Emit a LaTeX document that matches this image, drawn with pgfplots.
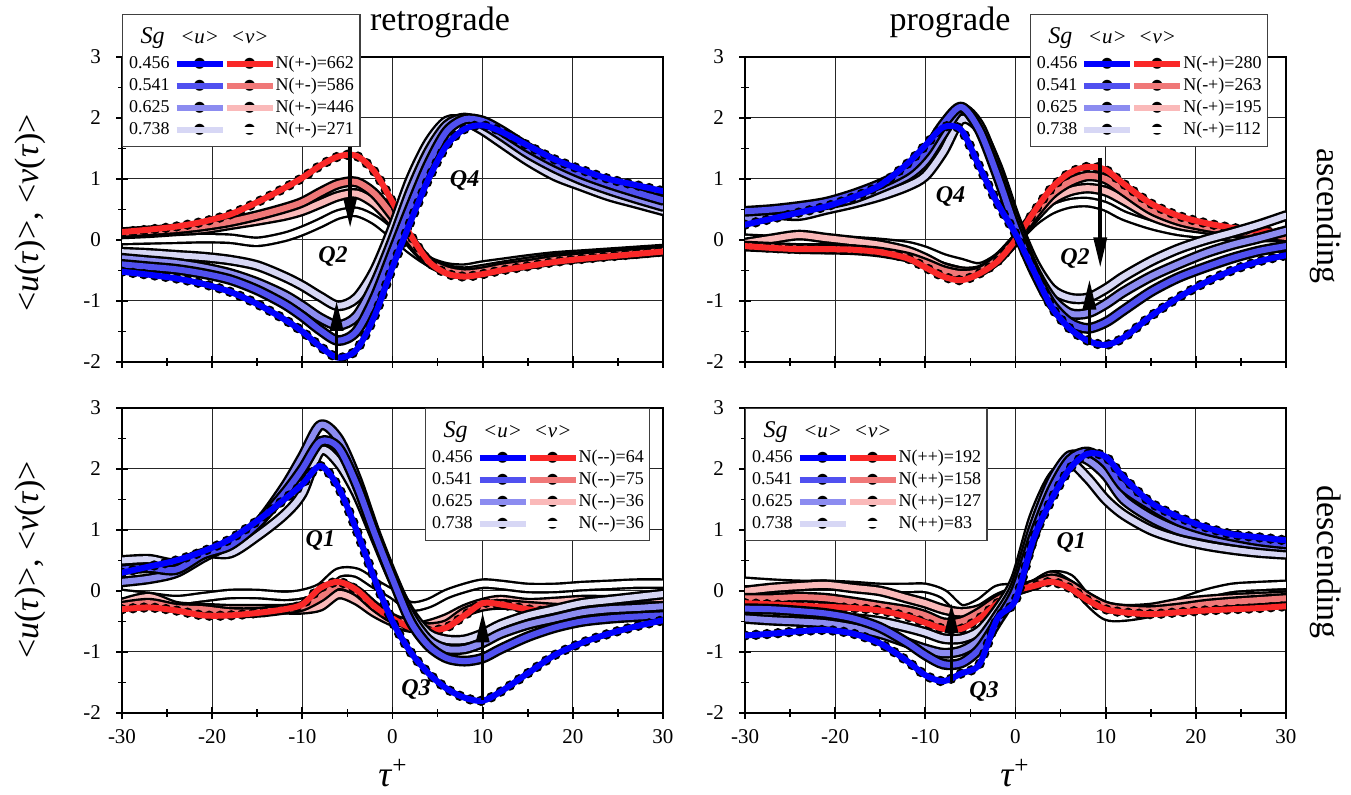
\documentclass[border=0pt]{standalone}
\usepackage{fontspec}
\setmainfont{Liberation Serif}
\newfontfamily\dejavu{DejaVu Sans}
\usepackage{pgfplots}
\pgfplotsset{compat=1.18}
\usepackage{pgfplotstable}
\usetikzlibrary{arrows.meta}

% colour ramps for Sg = 0.456, 0.541, 0.625, 0.738
\definecolor{ub1}{RGB}{0,0,255}
\definecolor{ub2}{RGB}{80,80,240}
\definecolor{ub3}{RGB}{140,140,240}
\definecolor{ub4}{RGB}{215,215,245}
\definecolor{vr1}{RGB}{250,40,40}
\definecolor{vr2}{RGB}{240,120,120}
\definecolor{vr3}{RGB}{250,185,185}

% conditional averages <u>, <v> around the event, columns 1..4 = Sg 0.456 .. 0.738
\pgfplotstableread{
x    u1     u2     u3     u4     v1     v2     v3     v4
-30 -0.52 -0.40 -0.30 -0.20  0.13  0.12  0.10  0.00
-27 -0.57 -0.44 -0.34 -0.22  0.17  0.15  0.12  0.01
-24 -0.63 -0.48 -0.38 -0.25  0.22  0.18  0.15  0.02
-21 -0.72 -0.55 -0.45 -0.28  0.30  0.23  0.18  0.03
-18 -0.85 -0.65 -0.55 -0.33  0.42  0.30  0.25  0.02
-15 -1.05 -0.82 -0.70 -0.42  0.62  0.40  0.32 -0.03
-12 -1.30 -1.05 -0.90 -0.60  0.85  0.52  0.40  0.05
-10 -1.50 -1.25 -1.08 -0.75  1.02  0.62  0.48  0.15
-8  -1.75 -1.48 -1.28 -0.93  1.22  0.78  0.60  0.28
-6  -1.93 -1.65 -1.40 -1.08  1.37  0.92  0.72  0.42
-4  -1.80 -1.50 -1.25 -0.95  1.38  0.95  0.76  0.46
-2  -1.25 -0.95 -0.72 -0.50  1.12  0.76  0.60  0.33
0   -0.45 -0.20  0.00  0.20  0.62  0.40  0.30  0.10
2    0.30  0.55  0.80  1.00  0.08  0.00 -0.05 -0.15
4    1.00  1.25  1.45  1.60 -0.35 -0.35 -0.35 -0.35
6    1.55  1.78  1.88  1.95 -0.55 -0.50 -0.48 -0.45
8    1.82  1.98  2.00  1.95 -0.60 -0.55 -0.52 -0.47
10   1.88  1.95  1.90  1.80 -0.56 -0.52 -0.48 -0.42
12   1.78  1.80  1.72  1.60 -0.50 -0.46 -0.43 -0.38
15   1.55  1.52  1.42  1.30 -0.43 -0.40 -0.36 -0.32
18   1.32  1.28  1.18  1.05 -0.36 -0.33 -0.30 -0.27
21   1.15  1.08  0.98  0.88 -0.31 -0.29 -0.27 -0.24
24   1.00  0.92  0.82  0.72 -0.27 -0.25 -0.23 -0.21
27   0.90  0.78  0.68  0.60 -0.23 -0.22 -0.20 -0.18
30   0.80  0.65  0.55  0.48 -0.19 -0.18 -0.17 -0.15
}\retroasc

\pgfplotstableread{
x    u1     u2     u3     u4     v1     v2     v3     v4
-30  0.25  0.47  0.35  0.40 -0.10 -0.10 -0.05  0.02
-27  0.35  0.50  0.42  0.42 -0.13 -0.12  0.02  0.00
-24  0.45  0.55  0.50  0.40 -0.15 -0.14  0.08  0.00
-21  0.55  0.62  0.58  0.50 -0.15 -0.15  0.03  0.00
-18  0.70  0.75  0.68  0.60 -0.16 -0.16 -0.02 -0.02
-15  0.90  0.92  0.85  0.72 -0.20 -0.20 -0.08 -0.05
-12  1.25  1.15  1.05  0.88 -0.30 -0.28 -0.18 -0.10
-10  1.55  1.45  1.30  1.05 -0.45 -0.38 -0.30 -0.18
-8   1.85  1.90  1.75  1.45 -0.60 -0.50 -0.45 -0.30
-6   1.80  2.18  2.15  1.98 -0.66 -0.56 -0.52 -0.38
-4   1.20  1.80  1.88  1.82 -0.55 -0.52 -0.50 -0.45
-2   0.60  1.05  1.15  1.20 -0.35 -0.32 -0.32 -0.30
0    0.10  0.20  0.30  0.35  0.00  0.00  0.00  0.00
2   -0.50 -0.50 -0.45 -0.35  0.45  0.40  0.35  0.30
4   -1.10 -1.05 -0.95 -0.80  0.85  0.75  0.65  0.50
6   -1.45 -1.35 -1.20 -0.95  1.10  0.95  0.80  0.60
8   -1.65 -1.45 -1.20 -0.95  1.20  1.05  0.85  0.62
10  -1.72 -1.35 -1.05 -0.80  1.15  1.00  0.80  0.55
12  -1.60 -1.15 -0.85 -0.60  0.92  0.80  0.65  0.40
15  -1.25 -0.85 -0.60 -0.35  0.60  0.50  0.40  0.25
18  -0.95 -0.62 -0.40 -0.15  0.40  0.32  0.25  0.15
21  -0.70 -0.45 -0.22  0.00  0.28  0.22  0.18  0.10
24  -0.50 -0.30 -0.08  0.12  0.20  0.15  0.12  0.06
27  -0.35 -0.18  0.03  0.25  0.15  0.10  0.08  0.05
30  -0.25 -0.10  0.15  0.40  0.12  0.05  0.05  0.05
}\proasc

\pgfplotstableread{
x    u1     u2     u3     u4     v1     v2     v3     v4
-30  0.30  0.35  0.15  0.50 -0.30 -0.25 -0.20 -0.05
-27  0.40  0.38  0.20  0.52 -0.27 -0.20 -0.10 -0.10
-24  0.50  0.35  0.30  0.45 -0.32 -0.28 -0.25 -0.15
-21  0.65  0.60  0.55  0.62 -0.40 -0.30 -0.28 -0.10
-18  0.85  0.75  0.78  0.62 -0.40 -0.35 -0.30 -0.05
-15  1.15  1.10  1.10  0.90 -0.36 -0.35 -0.30 -0.05
-12  1.50  1.60  1.70  1.25 -0.30 -0.30 -0.30 -0.08
-10  1.75  2.00  2.20  1.60 -0.22 -0.25 -0.30 -0.05
-8   2.05  2.45  2.72  2.30  0.05 -0.10 -0.25  0.05
-6   1.70  2.35  2.50  2.10  0.15  0.10 -0.05  0.30
-4   1.00  1.75  1.85  1.60  0.02  0.00 -0.15  0.30
-2   0.20  0.95  1.00  0.90 -0.25 -0.25 -0.35  0.12
0   -0.50  0.20  0.25  0.20 -0.45 -0.45 -0.50 -0.05
2   -1.00 -0.50 -0.40 -0.35 -0.60 -0.55 -0.60 -0.25
4   -1.35 -0.90 -0.80 -0.70 -0.65 -0.60 -0.55 -0.20
6   -1.60 -1.10 -0.95 -0.80 -0.60 -0.55 -0.45 -0.05
8   -1.75 -1.15 -0.95 -0.80 -0.40 -0.35 -0.30  0.05
10  -1.80 -1.10 -0.85 -0.70 -0.20 -0.25 -0.20  0.12
12  -1.65 -0.95 -0.70 -0.55 -0.22 -0.22 -0.15  0.10
15  -1.35 -0.75 -0.55 -0.40 -0.30 -0.25 -0.20  0.05
18  -1.05 -0.60 -0.45 -0.30 -0.35 -0.28 -0.18  0.05
21  -0.85 -0.50 -0.35 -0.20 -0.40 -0.30 -0.15  0.08
24  -0.70 -0.45 -0.30 -0.15 -0.42 -0.30 -0.15  0.10
27  -0.58 -0.42 -0.28 -0.10 -0.40 -0.30 -0.12  0.12
30  -0.48 -0.40 -0.25 -0.05 -0.40 -0.30 -0.12  0.12
}\retrodesc

\pgfplotstableread{
x    u1     u2     u3     u4     v1     v2     v3     v4
-30 -0.73 -0.29 -0.45 -0.37 -0.20 -0.12  0.00  0.15
-27 -0.70 -0.30 -0.48 -0.38 -0.22 -0.12  0.05  0.12
-24 -0.66 -0.33 -0.50 -0.42 -0.24 -0.10  0.08  0.10
-21 -0.64 -0.37 -0.53 -0.43 -0.26 -0.12  0.10  0.10
-18 -0.70 -0.45 -0.60 -0.45 -0.28 -0.18  0.05  0.08
-15 -0.86 -0.60 -0.70 -0.50 -0.32 -0.25  0.00  0.05
-12 -1.15 -0.85 -0.85 -0.60 -0.42 -0.32 -0.12  0.05
-10 -1.38 -1.05 -0.95 -0.68 -0.52 -0.40 -0.20  0.05
-8  -1.48 -1.20 -1.02 -0.78 -0.62 -0.52 -0.30 -0.05
-6  -1.35 -1.18 -0.98 -0.78 -0.62 -0.50 -0.35 -0.30
-4  -1.20 -0.95 -0.80 -0.65 -0.45 -0.35 -0.30 -0.20
-2  -0.45 -0.50 -0.40 -0.30 -0.20 -0.15 -0.12  0.02
0   -0.15  0.00  0.10  0.20  0.00  0.00  0.00  0.05
2    0.85  0.90  1.05  1.20  0.08  0.10  0.10  0.10
4    1.50  1.65  1.80  1.85  0.15  0.20  0.25  0.25
6    2.00  2.15  2.22  2.10  0.05  0.10  0.10  0.20
8    2.25  2.28  2.15  1.85 -0.15 -0.10 -0.10 -0.15
10   2.20  2.10  1.90  1.50 -0.30 -0.25 -0.25 -0.40
12   1.86  1.70  1.50  1.25 -0.35 -0.30 -0.30 -0.42
15   1.45  1.40  1.20  1.00 -0.38 -0.32 -0.28 -0.35
18   1.22  1.15  1.00  0.85 -0.35 -0.28 -0.20 -0.20
21   1.05  1.00  0.90  0.75 -0.32 -0.22 -0.15 -0.05
24   0.93  0.90  0.82  0.68 -0.30 -0.18 -0.12  0.05
27   0.88  0.82  0.76  0.63 -0.28 -0.15 -0.10  0.08
30   0.83  0.77  0.72  0.60 -0.25 -0.12 -0.08  0.10
}\prodesc

\pgfplotsset{
  panel/.style={
    scale only axis, width=270.5pt, height=152.5pt,
    xmin=-30, xmax=30, ymin=-2, ymax=3,
    xtick={-30,-20,...,30}, ytick={-2,-1,...,3},
    minor x tick num=1, minor y tick num=1,
    grid=major, major grid style={black!85, line width=0.5pt},
    tick pos=left, tick align=center,
    major tick length=6pt, minor tick length=4pt,
    every tick/.style={black, line width=0.9pt},
    axis line style={black, line width=1pt},
    tick label style={font=\fontsize{10.5}{12}\selectfont},
    yticklabel style={xshift=-4pt},
    xticklabel style={yshift=-1.5pt},
    /pgf/number format/assume math mode=true,
    clip mode=individual,
  },
  oline/.style={black, line width=5.4pt, line join=round, line cap=round, smooth, no markers},
  dline/.style={black, line width=5.2pt, line cap=round, dash pattern=on 0pt off 5.5pt, smooth, no markers},
  cline/.style={line width=3pt, line join=round, line cap=round, smooth, no markers},
}

\tikzset{
  legbox/.style={draw=black!75, line width=0.7pt, fill=white, inner xsep=3pt, inner ysep=2.5pt,
    font=\fontsize{9}{11}\selectfont},
  qlab/.style={font=\fontsize{12}{14}\selectfont\bfseries\itshape},
  evarrow/.style={-{Triangle[length=15pt,width=6.5pt]}, line width=1.8pt, black},
}

% legend sample: coloured stroke laid over a black bead, both centred on the math axis
\newcommand{\samp}[1]{\makebox[23pt][c]{%
  \makebox[0pt][c]{$\vcenter{\hbox{\dejavu\fontsize{7.2}{7.2}\selectfont ●}}$}%
  \makebox[0pt][c]{$\vcenter{\hbox{\textcolor{#1}{\rule{23pt}{3pt}}}}$}}}

\newcommand{\legtab}[4]{%
  \begin{tabular}{@{}r@{\hspace{3.5pt}}c@{\hspace{2pt}}c@{\hspace{1.5pt}}l@{}}
  \multicolumn{1}{c}{\rule{0pt}{12pt}\fontsize{12}{12}\selectfont\itshape Sg} &
    {\fontsize{10.5}{11}\selectfont\itshape <u>} & {\fontsize{10.5}{11}\selectfont\itshape <v>} & \\[1.5pt]
  0.456 & \samp{ub1} & \samp{vr1} & #1\\
  0.541 & \samp{ub2} & \samp{vr2} & #2\\
  0.625 & \samp{ub3} & \samp{vr3} & #3\\
  0.738 & \samp{ub4} & \samp{white} & #4
  \end{tabular}}

% eight outlined curves of one panel
\newcommand{\curves}[1]{%
  \addplot[oline] table[x=x,y=v4]{#1};
  \addplot[cline, white] table[x=x,y=v4]{#1};
  \addplot[oline] table[x=x,y=v3]{#1};
  \addplot[cline, vr3] table[x=x,y=v3]{#1};
  \addplot[oline] table[x=x,y=v2]{#1};
  \addplot[cline, vr2] table[x=x,y=v2]{#1};
  \addplot[dline] table[x=x,y=v1]{#1};
  \addplot[cline, vr1] table[x=x,y=v1]{#1};
  \addplot[oline] table[x=x,y=u4]{#1};
  \addplot[cline, ub4] table[x=x,y=u4]{#1};
  \addplot[oline] table[x=x,y=u3]{#1};
  \addplot[cline, ub3] table[x=x,y=u3]{#1};
  \addplot[oline] table[x=x,y=u2]{#1};
  \addplot[cline, ub2] table[x=x,y=u2]{#1};
  \addplot[dline] table[x=x,y=u1]{#1};
  \addplot[cline, ub1] table[x=x,y=u1]{#1};
}

\begin{document}
\begin{tikzpicture}
\useasboundingbox (0,0) rectangle (675.5pt,397.5pt);

% retrograde, ascending
\begin{axis}[panel, at={(61pt,216.5pt)}, anchor=south west, xticklabels={}]
  \curves{\retroasc}
  \draw[evarrow] (axis cs:-4.7,1.59) -- (axis cs:-4.7,0.2);
  \draw[evarrow] (axis cs:-6.2,-1.97) -- (axis cs:-6.2,-1.0);
  \node[qlab] at (axis cs:-6.6,-0.27) {Q2};
  \node[qlab] at (axis cs:8,0.98) {Q4};
  \node[legbox, anchor=north west] at (rel axis cs:0,1.141)
    {\legtab{N(+-)=662}{N(+-)=586}{N(+-)=446}{N(+-)=271}};
\end{axis}

% prograde, ascending
\begin{axis}[panel, at={(372.5pt,216.5pt)}, anchor=south west, xticklabels={}]
  \curves{\proasc}
  \draw[evarrow] (axis cs:9.4,1.35) -- (axis cs:9.4,-0.45);
  \draw[evarrow] (axis cs:8.2,-1.72) -- (axis cs:8.2,-0.65);
  \node[qlab] at (axis cs:6.6,-0.3) {Q2};
  \node[qlab] at (axis cs:-7.2,0.71) {Q4};
  \node[legbox, anchor=north west] at (rel axis cs:0.526,1.141)
    {\legtab{N(-+)=280}{N(-+)=263}{N(-+)=195}{N(-+)=112}};
\end{axis}

% retrograde, descending
\begin{axis}[panel, at={(61pt,41pt)}, anchor=south west]
  \curves{\retrodesc}
  \draw[evarrow] (axis cs:10,-1.78) -- (axis cs:10,-0.35);
  \node[qlab] at (axis cs:-8,0.82) {Q1};
  \node[qlab] at (axis cs:2.6,-1.62) {Q3};
  \node[legbox, anchor=north west] at (rel axis cs:0.56,1)
    {\legtab{N(-{}-)=64}{N(-{}-)=75}{N(-{}-)=36}{N(-{}-)=36}};
\end{axis}

% prograde, descending
\begin{axis}[panel, at={(372.5pt,41pt)}, anchor=south west]
  \curves{\prodesc}
  \draw[evarrow] (axis cs:-7.1,-1.5) -- (axis cs:-7.1,-0.2);
  \node[qlab] at (axis cs:6.2,0.8) {Q1};
  \node[qlab] at (axis cs:-3.5,-1.65) {Q3};
  \node[legbox, anchor=north west] at (rel axis cs:0,1)
    {\legtab{N(++)=192}{N(++)=158}{N(++)=127}{N(++)=83}};
\end{axis}

% titles and side labels
\node[font=\fontsize{17}{20}\selectfont, anchor=base] at (220pt,382pt) {retrograde};
\node[font=\fontsize{17}{20}\selectfont, anchor=base] at (475pt,382pt) {prograde};
\node[font=\fontsize{17}{20}\selectfont, rotate=-90] at (663pt,289.5pt) {ascending};
\node[font=\fontsize{17}{20}\selectfont, rotate=-90] at (663pt,116.5pt) {descending};
\node[font=\fontsize{17}{20}\selectfont, rotate=90] at (15pt,291pt)
  {<\textit{u}(\textit{τ})>, <\textit{v}(\textit{τ})>};
\node[font=\fontsize{17}{20}\selectfont, rotate=90] at (15pt,117.5pt)
  {<\textit{u}(\textit{τ})>, <\textit{v}(\textit{τ})>};
\node[font=\fontsize{18}{20}\selectfont] at (196.5pt,11pt) {\textit{τ}\textsuperscript{+}};
\node[font=\fontsize{18}{20}\selectfont] at (507.5pt,11pt) {\textit{τ}\textsuperscript{+}};
\end{tikzpicture}
\end{document}
